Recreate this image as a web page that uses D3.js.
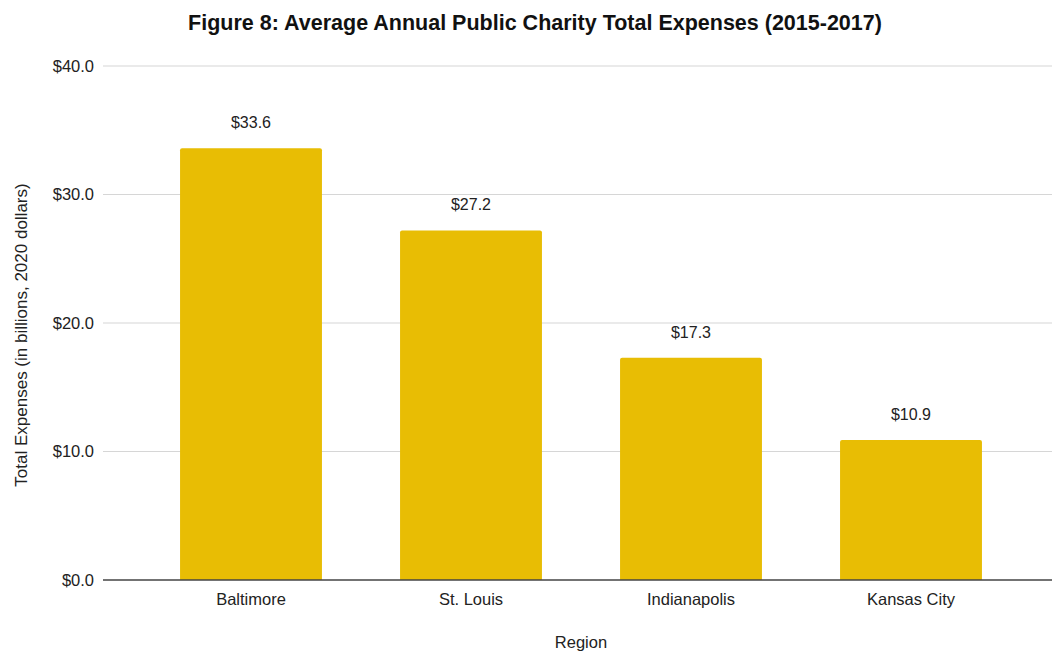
<!DOCTYPE html>
<html>
<head>
<meta charset="utf-8">
<script src="https://cdn.jsdelivr.net/npm/d3@7"></script>
<style>
  html, body { margin: 0; padding: 0; background: #fff; }
  svg { display: block; font-family: "Liberation Sans", Arial, sans-serif; }
</style>
</head>
<body>
<svg id="chart" width="1052" height="652"></svg>
<script>
// Average annual public charity total expenses, billions of 2020 dollars
const regions = ["Baltimore", "St. Louis", "Indianapolis", "Kansas City"];
const expenses = [33.6, 27.2, 17.3, 10.9];
const yTicks = [0, 10, 20, 30, 40];

const svg = d3.select("#chart");
const plot = { left: 103, right: 1052, top: 66, bottom: 580 };
const fontSize = 16.5;

const x = d3.scaleBand()
  .domain(regions)
  .range([141, 1021])
  .paddingInner(0.355)
  .paddingOuter(0.1775);

const y = d3.scaleLinear()
  .domain([0, 40])
  .range([plot.bottom, plot.top]);

// Title
svg.append("text")
  .attr("x", 535).attr("y", 30)
  .attr("text-anchor", "middle")
  .attr("font-size", 21.5).attr("font-weight", "bold")
  .attr("fill", "#111")
  .text("Figure 8: Average Annual Public Charity Total Expenses (2015-2017)");

// Horizontal gridlines
svg.append("g")
  .selectAll("line")
  .data(yTicks.filter(d => d > 0))
  .join("line")
  .attr("x1", plot.left).attr("x2", plot.right)
  .attr("y1", d => y(d)).attr("y2", d => y(d))
  .attr("stroke", "#d6d6d6").attr("stroke-width", 1.2);

// Y axis labels
const yAxis = d3.axisLeft(y)
  .tickValues(yTicks)
  .tickFormat(d => "$" + d3.format(".1f")(d))
  .tickSize(0)
  .tickPadding(9);
const gy = svg.append("g")
  .attr("transform", `translate(${plot.left},0)`)
  .call(yAxis);
gy.select(".domain").remove();
gy.selectAll("text")
  .attr("font-size", fontSize)
  .attr("font-family", "Liberation Sans, Arial, sans-serif")
  .attr("fill", "#222");

// Bars with lightly rounded tops
const r = 2;
svg.append("g")
  .selectAll("path")
  .data(regions.map((c, i) => ({ c, v: expenses[i] })))
  .join("path")
  .attr("fill", "#e8bd04")
  .attr("d", d => {
    const x0 = x(d.c), x1 = x0 + x.bandwidth();
    const yt = y(d.v), yb = y(0);
    return `M${x0},${yb}V${yt + r}Q${x0},${yt} ${x0 + r},${yt}` +
           `H${x1 - r}Q${x1},${yt} ${x1},${yt + r}V${yb}Z`;
  });

// Value labels
svg.append("g")
  .selectAll("text")
  .data(regions.map((c, i) => ({ c, v: expenses[i] })))
  .join("text")
  .attr("x", d => x(d.c) + x.bandwidth() / 2)
  .attr("y", d => y(d.v) - 20)
  .attr("text-anchor", "middle")
  .attr("font-size", 16)
  .attr("fill", "#222")
  .text(d => "$" + d3.format(".1f")(d.v));

// Baseline
svg.append("line")
  .attr("x1", plot.left).attr("x2", plot.right)
  .attr("y1", y(0)).attr("y2", y(0))
  .attr("stroke", "#444").attr("stroke-width", 1.3);

// X axis labels
const xAxis = d3.axisBottom(x).tickSize(0).tickPadding(13);
const gx = svg.append("g")
  .attr("transform", `translate(0,${plot.bottom})`)
  .call(xAxis);
gx.select(".domain").remove();
gx.selectAll("text")
  .attr("font-size", fontSize)
  .attr("font-family", "Liberation Sans, Arial, sans-serif")
  .attr("fill", "#222");

// Axis titles
svg.append("text")
  .attr("x", 581).attr("y", 648)
  .attr("text-anchor", "middle")
  .attr("font-size", fontSize).attr("fill", "#222")
  .text("Region");

svg.append("text")
  .attr("transform", `translate(27,${(plot.top + plot.bottom) / 2 + 12}) rotate(-90)`)
  .attr("text-anchor", "middle")
  .attr("font-size", 17).attr("fill", "#222")
  .text("Total Expenses (in billions, 2020 dollars)");
</script>
</body>
</html>
